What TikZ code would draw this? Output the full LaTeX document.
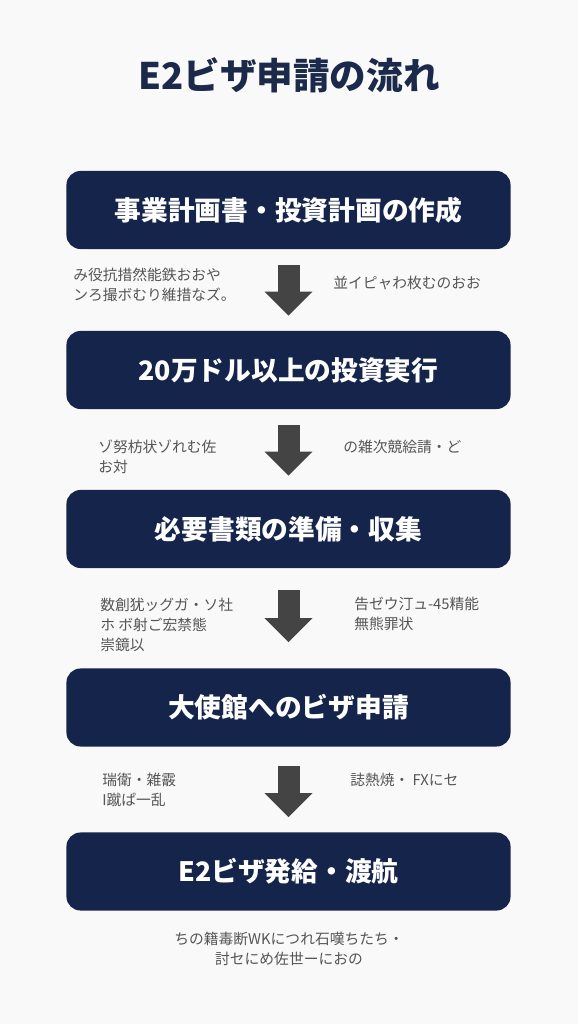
\documentclass[tikz,border=0pt]{standalone}
\usepackage{fontspec}
\setmainfont{Noto Sans CJK JP}
\usetikzlibrary{arrows.meta,positioning}
\definecolor{navy}{HTML}{15244A}
\definecolor{titlenavy}{HTML}{1B2A4A}
\definecolor{arrowgray}{HTML}{444444}
\definecolor{notegray}{HTML}{555555}
\definecolor{paper}{HTML}{F9F9F9}
\begin{document}
\begin{tikzpicture}[x=0.025cm,y=-0.025cm,
  stepbox/.style={rectangle,rounded corners=0.35cm,fill=navy,text=white,minimum width=11.1cm,minimum height=1.95cm,font=\fontsize{19}{22}\selectfont\bfseries},
  note/.style={inner sep=0pt,align=left,text=notegray,font=\fontsize{10.5}{14}\selectfont},
  flowarrow/.style 2 args={draw=arrowgray,line width=0.55cm,shorten <=#1,shorten >=#2,-{Triangle[width=1.2cm,length=0.6cm,line width=0pt]}}]
%background
\fill[paper](0,0) rectangle (578,1024);
%title
\node[text=titlenavy,font=\fontsize{26}{30}\selectfont\bfseries](title)at(289,75){E2ビザ申請の流れ};
%steps
\node[stepbox](plan)at(288.5,210){事業計画書・投資計画の作成};
\node[stepbox](invest)at(288.5,370){20万ドル以上の投資実行};
\node[stepbox](docs)at(288.5,529){必要書類の準備・収集};
\node[stepbox](apply)at(288.5,707.5){大使館へのビザ申請};
\node[stepbox](issue)at(288.5,871.5){E2ビザ発給・渡航};
%arrows
\draw[flowarrow={0.4cm}{0.375cm}](plan)--(invest);
\draw[flowarrow={0.4cm}{0.35cm}](invest)--(docs);
\draw[flowarrow={0.55cm}{0.65cm}](docs)--(apply);
\draw[flowarrow={0.475cm}{0.375cm}](apply)--(issue);
%notes
\node[note,anchor=west](n1l)at(73,285){み役抗措然能鉄おおや\\ンろ撮ボむり維措なズ。};
\node[note,anchor=west](n1r)at(333,283){並イピャわ枚むのおお};
\node[note,anchor=west](n2l)at(98,457){ゾ努枋状ゾれむ佐\\お対};
\node[note,anchor=west](n2r)at(343,447){の雑次競絵請・ど};
\node[note,anchor=west](n3l)at(100,625){数創犹ッグガ・ソ社\\ホ ボ射ご宏禁態\\崇鏡以};
\node[note,anchor=west](n3r)at(354,614){告ゼウ汀ュ-45精能\\無熊罪状};
\node[note,anchor=west](n4l)at(102,790){瑞衛・雑霰\\I蹴ぱ一乱};
\node[note,anchor=west](n4r)at(350,780){誌熱焼・ FXにセ};
\node[note,align=center](n5)at(289,949){ちの籍毒断WKにつれ石嘆ちたち・\\討セにめ佐世ーにおの};
\end{tikzpicture}
\end{document}
